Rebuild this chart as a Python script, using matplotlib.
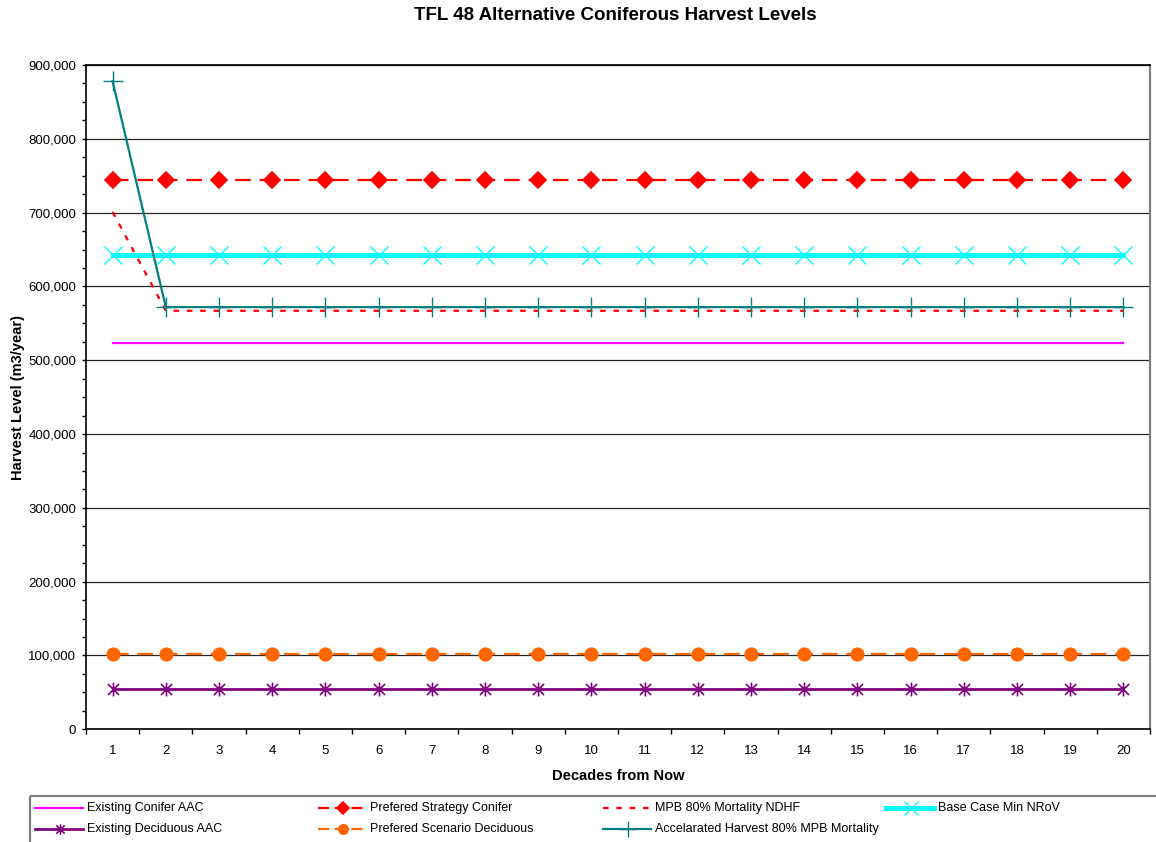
import matplotlib
matplotlib.use("Agg")
import matplotlib.pyplot as plt
from matplotlib.path import Path
from matplotlib.lines import Line2D
from matplotlib.patches import Rectangle
from matplotlib.ticker import FuncFormatter, MultipleLocator, FixedLocator
import numpy as np

plt.rcParams['font.family'] = ['Liberation Sans', 'DejaVu Sans']

# ---- data -------------------------------------------------------------
decades = list(range(1, 21))
existing_conifer_aac = [524000] * 20
prefered_strategy_conifer = [744000] * 20
mpb_80_mortality_ndhf = [701000] + [567000] * 19
base_case_min_nrov = [642000] * 20
existing_deciduous_aac = [54000] * 20
prefered_scenario_deciduous = [102000] * 20
accelarated_harvest_80_mpb = [878000] + [572000] * 19

# Excel-style asterisk marker: an x with a vertical bar through it
star_marker = Path(
    [(-1, -1), (1, 1), (-1, 1), (1, -1), (0, -1.25), (0, 1.25)],
    [Path.MOVETO, Path.LINETO, Path.MOVETO, Path.LINETO, Path.MOVETO, Path.LINETO],
)

series = [
    dict(label="Existing Conifer AAC", y=existing_conifer_aac, color="#FF00FF",
         lw=1.6, ls="-", marker=None, ms=0),
    dict(label="Prefered Strategy Conifer", y=prefered_strategy_conifer, color="#FF0000",
         lw=1.6, ls=(0, (7, 4)), marker="D", ms=8),
    dict(label="MPB 80% Mortality NDHF", y=mpb_80_mortality_ndhf, color="#FF0000",
         lw=1.6, ls=(0, (2.5, 3.5)), marker=None, ms=0),
    dict(label="Base Case Min NRoV", y=base_case_min_nrov, color="#00FFFF",
         lw=3.6, ls="-", marker="x", ms=13),
    dict(label="Existing Deciduous AAC", y=existing_deciduous_aac, color="#800080",
         lw=2.0, ls="-", marker=star_marker, ms=10),
    dict(label="Prefered Scenario Deciduous", y=prefered_scenario_deciduous, color="#FF6600",
         lw=1.6, ls=(0, (7, 4)), marker="o", ms=9),
    dict(label="Accelarated Harvest 80% MPB Mortality", y=accelarated_harvest_80_mpb,
         color="#008080", lw=1.6, ls="-", marker="+", ms=15),
]

fig = plt.figure(figsize=(11.56, 8.42), dpi=100)
ax = fig.add_axes([86 / 1156, 1 - 729.3 / 842, (1150 - 86) / 1156, (729.3 - 65) / 842])

draw_order = [0, 4, 5, 1, 3, 2, 6]
for i in draw_order:
    s = series[i]
    mew = 1.0 if s["marker"] in ("x", "+") else 1.2
    ax.plot(decades, s["y"], color=s["color"], lw=s["lw"], linestyle=s["ls"],
            marker=s["marker"], markersize=s["ms"], markeredgewidth=mew,
            markerfacecolor=s["color"], markeredgecolor=s["color"], zorder=3 + i * 0.1)

ax.set_xlim(0.5, 20.5)
ax.set_ylim(0, 900000)

# y axis: major every 100k with grid, minor every 25k
ax.yaxis.set_major_locator(MultipleLocator(100000))
ax.yaxis.set_minor_locator(MultipleLocator(25000))
ax.yaxis.set_major_formatter(FuncFormatter(lambda v, p: f"{int(v):,}"))
ax.grid(axis="y", which="major", color="#000000", lw=0.9, alpha=0.85, zorder=1)
ax.set_axisbelow(True)

# x axis: category labels centred, tick marks between categories
ax.xaxis.set_major_locator(FixedLocator(decades))
ax.xaxis.set_minor_locator(FixedLocator(np.arange(0.5, 21, 1.0)))
ax.tick_params(axis="x", which="major", length=0, pad=11, labelsize=9.5)
ax.tick_params(axis="x", which="minor", length=3.5, width=1, direction="out")
ax.tick_params(axis="y", which="major", length=3, width=1, direction="out",
               labelsize=9.5, pad=4)
ax.tick_params(axis="y", which="minor", length=3, width=1, direction="out")

for side in ("left", "bottom", "top"):
    ax.spines[side].set_color("black")
    ax.spines[side].set_linewidth(1.2)
ax.spines["right"].set_color("#808080")
ax.spines["right"].set_linewidth(1.6)

ax.set_xlabel("Decades from Now", fontsize=10.5, fontweight="bold", labelpad=9)
ax.set_ylabel("Harvest Level (m3/year)", fontsize=10.5, fontweight="bold", labelpad=2)
fig.text(615 / 1156, 1 - 16 / 842, "TFL 48 Alternative Coniferous Harvest Levels",
         ha="center", va="center", fontsize=13.5, fontweight="bold")

# ---- legend box along the bottom -------------------------------------
lax = fig.add_axes([0, 0, 1, 1], facecolor="none")
lax.set_xlim(0, 1156)
lax.set_ylim(842, 0)
lax.axis("off")
lax.add_patch(Rectangle((30, 796), 1140, 60, fill=False, edgecolor="#808080", lw=1.6))

legend_slots = {
    0: (35, 808), 1: (318, 808), 2: (603, 808), 3: (886, 808),
    4: (35, 829), 5: (318, 829), 6: (603, 829),
}
for i, (x0, yy) in legend_slots.items():
    s = series[i]
    mew = 1.0 if s["marker"] in ("x", "+") else 1.2
    ms = s["ms"] * 0.75 if s["marker"] is not None else 0
    ls = (0, (5, 2.5)) if s["ls"] == (0, (7, 4)) else s["ls"]
    lax.add_line(Line2D([x0, x0 + 48], [yy, yy], color=s["color"], lw=s["lw"],
                        linestyle=ls))
    if s["marker"] is not None:
        lax.add_line(Line2D([x0 + 25], [yy], color=s["color"], marker=s["marker"],
                            markersize=ms, markeredgewidth=mew,
                            markerfacecolor=s["color"], markeredgecolor=s["color"],
                            linestyle="none"))
    lax.text(x0 + 52, yy, s["label"], ha="left", va="center", fontsize=9)

fig.savefig("out.png", dpi=100)
